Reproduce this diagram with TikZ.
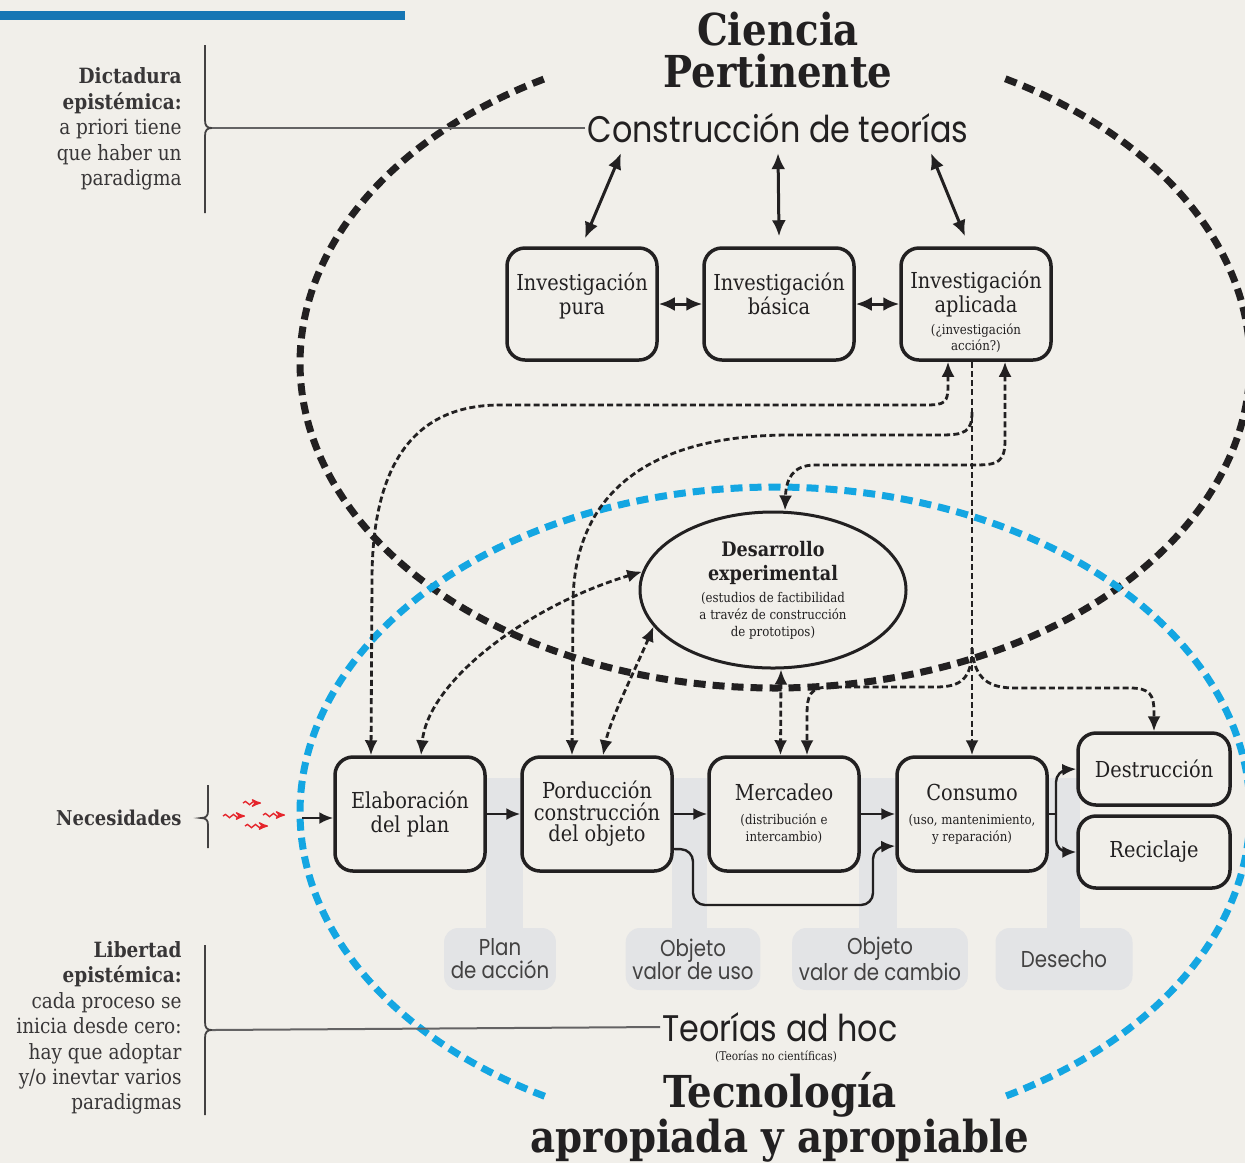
\documentclass[tikz,border=0pt]{standalone}
\usepackage{fontspec}
\setmainfont{DejaVu Serif}[FakeStretch=0.88]
\newfontfamily\gsans{Poppins}[FakeStretch=0.86]
\usetikzlibrary{arrows,arrows.meta}
\usetikzlibrary{calc,backgrounds}
\usetikzlibrary{shapes.geometric}
\usetikzlibrary{decorations.pathmorphing}

\definecolor{papel}{HTML}{F1EFEA}
\definecolor{tinta}{HTML}{222021}
\definecolor{cielo}{HTML}{14A6E2}
\definecolor{barra}{HTML}{1776B4}
\definecolor{franja}{HTML}{E3E4E6}
\definecolor{rojo}{HTML}{E5252C}

\newcommand{\textochico}{\fontsize{6.7}{8}\selectfont}

\tikzset{
  caja/.style={draw=tinta, line width=1.75pt, rounded corners=9pt, fill=papel,
    minimum width=75pt, minimum height=56pt, align=center, text=tinta,
    inner sep=1pt, font=\fontsize{11}{12}\selectfont},
  cajita/.style={caja, minimum width=76pt, minimum height=36pt},
  elipse/.style={draw=tinta, line width=1.5pt, fill=papel, ellipse, inner sep=0pt,
    minimum width=133pt, minimum height=78pt, align=center, text=tinta,
    font=\fontsize{10}{12}\selectfont},
  etiqueta/.style={fill=franja, rounded corners=7pt, minimum height=31pt,
    align=center, text=tinta!85, font=\gsans\fontsize{11.5}{11.5}\selectfont},
  titulo/.style={align=center, text=tinta, font=\bfseries\fontsize{22}{21}\selectfont},
  lema/.style={text=tinta, inner sep=1pt, font=\gsans\fontsize{18.5}{19}\selectfont},
  nota/.style={align=right, anchor=east, text=tinta!90, inner sep=0pt,
    font=\fontsize{10.5}{12.7}\selectfont},
  punteada/.style={draw=tinta, line width=1.4pt, dash pattern=on 3pt off 1.6pt,
    >={Latex[length=7.5pt,width=6.5pt]}},
  flecha/.style={draw=tinta, line width=1.2pt, ->, >={Latex[length=7pt,width=6pt]}},
  doble/.style={draw=tinta, line width=1.5pt, <->, >={Latex[length=8pt,width=7pt]}},
  llave/.style={draw=tinta!85, line width=0.9pt},
  guia/.style={draw=tinta!70, line width=1pt},
  negra/.style={draw=tinta, line width=3.5pt, dash pattern=on 6pt off 3.5pt},
  azul/.style={draw=cielo, line width=3.5pt, dash pattern=on 6pt off 3.5pt},
  gusano/.style={draw=rojo, line width=0.7pt, ->, >=stealth', decorate,
    decoration={snake, amplitude=0.8pt, segment length=4pt, post length=2.5pt}}
}

\begin{document}
\begin{tikzpicture}[x=0.5pt, y=-0.5pt]
\useasboundingbox (0,0) rectangle (1245,1163);

\begin{pgfonlayer}{background}
\fill[papel] (0,0) rectangle (1245,1163);
\fill[barra] (0,11) rectangle (405,20);
% franjas grises entre las cajas
\foreach \xa/\xb in {486/523, 672/707, 859/897, 1047/1080}
  \fill[franja] (\xa,778) rectangle (\xb,935);
% las dos grandes elipses
\draw[negra] plot[domain=299:601, samples=160, smooth] ({775+475*cos(\x)}, {363+325*sin(\x)});
\draw[azul] plot[domain=119:421, samples=160, smooth] ({775+475*cos(\x)}, {812+325*sin(\x)});
\end{pgfonlayer}

% titulos
\node[titulo] (ciencia) at (778,50) {Ciencia\\Pertinente};
\node[titulo] (tecno) at (780,1117) {Tecnología\\apropiada y apropiable};
\node[lema] (teo) at (778,128) {Construcción de teorías};
\node[lema] (adhoc) at (780,1027) {Teorías ad hoc};
\node[text=tinta, inner sep=0pt, font=\fontsize{6}{7}\selectfont] (nocient) at (776,1057) {(Teorías no científicas)};

% notas de la izquierda
\node[nota] (dictadura) at (182,129) {\textbf{Dictadura}\\\textbf{epistémica:}\\a priori tiene\\que haber un\\paradigma};
\node[nota] (libertad) at (182,1028) {\textbf{Libertad}\\\textbf{epistémica:}\\cada proceso se\\inicia desde cero:\\hay que adoptar\\y/o inevtar varios\\paradigmas};
\node[nota, font=\bfseries\fontsize{10.2}{12}\selectfont] (necesidades) at (182,818) {Necesidades};

% llaves
\draw[llave] (205,45) -- (205,120) .. controls (205,126) and (207,128) .. (212,128)
  .. controls (207,128) and (205,130) .. (205,136) -- (205,213);
\draw[llave] (205,945) -- (205,1022) .. controls (205,1028) and (207,1030) .. (212,1030)
  .. controls (207,1030) and (205,1032) .. (205,1038) -- (205,1115);
\draw[llave] (208,785) -- (208,811) .. controls (208,816) and (206,818) .. (201,818)
  .. controls (206,818) and (208,820) .. (208,825) -- (208,848);
\draw[guia] (212,128) -- (teo.west);
\draw[guia] (212,1030) -- (adhoc.west);

% investigacion
\node[caja] (pura) at (582,304) {Investigación\\pura\\[-2pt]\mbox{}};
\node[caja] (basica) at (779,304) {Investigación\\básica\\[-2pt]\mbox{}};
\node[caja] (apl) at (976,304) {\mbox{}\\[5pt]Investigación\\aplicada\\[-1pt]{\textochico (¿investigación}\\[-4pt]{\textochico acción?)}};

\draw[doble] (pura.east) -- (basica.west);
\draw[doble] (basica.east) -- (apl.west);
\draw[doble] ([xshift=-78.5pt,yshift=-4pt]teo.south) -- ([xshift=1.5pt,yshift=4pt]pura.north);
\draw[doble] ([yshift=-4pt]teo.south) -- ([yshift=5pt]basica.north);
\draw[doble] ([xshift=76.5pt,yshift=-4pt]teo.south) -- ([xshift=-5.5pt,yshift=5pt]apl.north);

% desarrollo experimental
\node[elipse] (des) at (773,590) {\textbf{Desarrollo}\\\textbf{experimental}\\[-1pt]{\textochico (estudios de factibilidad}\\[-3.5pt]{\textochico a travéz de construcción}\\[-3.5pt]{\textochico de prototipos)}};

% proceso
\node[caja, minimum height=57pt] (plan) at (410,814) {Elaboración\\del plan};
\node[caja, minimum height=57pt] (prod) at (597,814) {Porducción\\[-1.25pt]construcción\\[-1.25pt]del objeto};
\node[caja, minimum height=57pt] (merc) at (784,814) {Mercadeo\\{\textochico (distribución e}\\[-3.5pt]{\textochico intercambio)}};
\node[caja, minimum height=57pt] (cons) at (972,814) {Consumo\\{\textochico (uso, mantenimiento,}\\[-3.5pt]{\textochico y reparación)}};
\node[cajita] (dest) at (1154,769) {Destrucción};
\node[cajita] (rec) at (1154,852) {Reciclaje};

% etiquetas grises
\node[etiqueta, minimum width=54pt] (lplan) at (500,959) {Plan\\de acción};
\node[etiqueta, minimum width=67pt] (luso) at (693,959) {Objeto\\valor de uso};
\node[etiqueta, minimum width=87.5pt] (lcambio) at (880,959) {Objeto\\valor de cambio};
\node[etiqueta, minimum width=68.5pt] (ldesecho) at (1064,959) {Desecho};

% necesidades
\foreach \xa/\xb/\yy in {243/261/803, 223/245/816, 263/285/815, 245/268/826}
  \draw[gusano] (\xa,\yy) -- (\xb,\yy);
\coordinate (entrada) at (302,818);
\draw[flecha] (entrada) -- (entrada -| plan.west);
\draw[flecha] (plan.east) -- (prod.west);
\draw[flecha] (prod.east) -- (merc.west);
\draw[flecha] (merc.east) -- (cons.west);
\draw[flecha, rounded corners=6pt] ([yshift=-17.5pt]prod.east) -- (693,849.5) -- (693,905)
  -- (873,905) -- (873,847) -- ([yshift=-16pt]cons.west);
\coordinate (horquilla) at (1056,814);
\draw[flecha, -] (cons.east) -- (horquilla);
\draw[flecha, rounded corners=6pt] (horquilla) -- (1056,770) -- (dest.west);
\draw[flecha, rounded corners=6pt] (horquilla) -- (1056,852) -- (rec.west);

% conexiones punteadas
\draw[punteada, <->] ([xshift=-14pt]apl.south) -- (948,385) .. controls (948,403) and (945,405) .. (925,405)
  -- (500,405) .. controls (410,405) and (372,470) .. (372,580) -- ([xshift=-19.5pt]plan.north);
\draw[punteada, ->] (apl.south -| cons.north) -- (cons.north);
\draw[punteada, ->] (972,412) .. controls (972,432) and (965,435) .. (940,435) -- (790,435)
  .. controls (640,435) and (575,500) .. (573,600) -- ([xshift=-12.5pt]prod.north);
\draw[punteada, <->] ([xshift=14.5pt]apl.south) -- (1005,440) .. controls (1005,462) and (998,465) .. (975,465)
  -- (815,465) .. controls (792,465) and (786,480) .. ([xshift=6pt]des.north);
\draw[punteada, <->] (des.172) .. controls (530,605) and (428,680) .. ([xshift=5.5pt]plan.north);
\draw[punteada, <->] (des.197) .. controls (635,670) and (610,720) .. ([xshift=3pt]prod.north);
\draw[punteada, <->] ([xshift=4pt]des.south) -- ([xshift=-1.75pt]merc.north);
\coordinate (rama) at (972,648);
\draw[punteada, ->] (rama) .. controls (972,680) and (960,687) .. (935,687) -- (830,687)
  .. controls (810,687) and (807,695) .. (807,715) -- ([xshift=11.5pt]merc.north);
\draw[punteada, ->] (rama) .. controls (974,680) and (990,688) .. (1015,688) -- (1130,688)
  .. controls (1150,688) and (1154,695) .. (1154,712) -- (dest.north);
\end{tikzpicture}
\end{document}
